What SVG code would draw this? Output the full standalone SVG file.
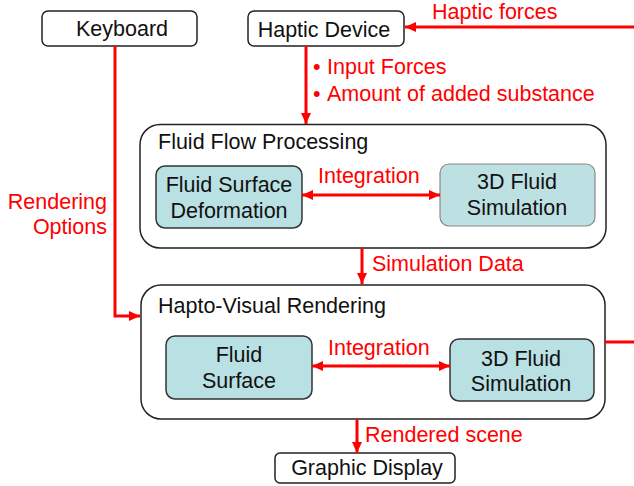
<svg xmlns="http://www.w3.org/2000/svg" width="634" height="486" viewBox="0 0 634 486">
<defs>
<marker id="ah" markerUnits="userSpaceOnUse" markerWidth="12" markerHeight="12" viewBox="0 0 12 12" refX="11" refY="6" orient="auto-start-reverse">
<path d="M0,1 L11,6 L0,11 Z" fill="#ff0000"/>
</marker>
<style>
.box{fill:#fff;stroke:#222;stroke-width:1.5}
.inner{fill:#b9e0e3;stroke:#333;stroke-width:1.5}
.inner2{fill:#bde0e3;stroke:#888;stroke-width:1.2}
.t{font-family:"Liberation Sans",Arial,sans-serif;font-size:21.5px;fill:#111}
.r{font-family:"Liberation Sans",Arial,sans-serif;font-size:21.5px;fill:#ff0000}
.c{fill:none;stroke:#ff0000;stroke-width:3}
</style>
</defs>
<rect width="634" height="486" fill="#fff"/>
<g id="keyboard"><rect class="box" x="42" y="11" width="155" height="35" rx="6"/><text class="t" x="122" y="36" text-anchor="middle">Keyboard</text></g>
<g id="haptic-device"><rect class="box" x="248" y="11" width="156" height="35" rx="6"/><text class="t" x="324" y="37" text-anchor="middle">Haptic Device</text></g>
<g id="fluid-flow-processing"><rect class="box" x="140" y="124.5" width="466" height="123.5" rx="20"/><text class="t" x="158" y="149">Fluid Flow Processing</text></g>
<g id="fluid-surface-deformation"><rect class="inner" x="156" y="166" width="146" height="62" rx="9"/><text class="t" x="229" y="192" text-anchor="middle">Fluid Surface</text><text class="t" x="229" y="218" text-anchor="middle">Deformation</text></g>
<g id="sim-3d-a"><rect class="inner2" x="440" y="164" width="155" height="62" rx="9"/><text class="t" x="517" y="189" text-anchor="middle">3D Fluid</text><text class="t" x="517" y="215" text-anchor="middle">Simulation</text></g>
<g id="hapto-visual-rendering"><rect class="box" x="141" y="285" width="464" height="134" rx="20"/><text class="t" x="158" y="313">Hapto-Visual Rendering</text></g>
<g id="fluid-surface"><rect class="inner" x="166" y="336" width="146" height="63" rx="9"/><text class="t" x="239" y="362" text-anchor="middle">Fluid</text><text class="t" x="239" y="388" text-anchor="middle">Surface</text></g>
<g id="sim-3d-b"><rect class="inner" x="450" y="339" width="144" height="62" rx="9"/><text class="t" x="521" y="366" text-anchor="middle">3D Fluid</text><text class="t" x="521" y="391" text-anchor="middle">Simulation</text></g>
<g id="graphic-display"><rect class="box" x="275" y="453" width="180" height="30" rx="5"/><text class="t" x="367" y="475" text-anchor="middle">Graphic Display</text></g>
<g id="connectors">
<path class="c" d="M634,27 L405,27" marker-end="url(#ah)"/>
<path class="c" d="M115,46 L115,316 L140,316" marker-end="url(#ah)"/>
<path class="c" d="M306,46 L306,124" marker-end="url(#ah)"/>
<path class="c" d="M302,195 L440,195" marker-start="url(#ah)" marker-end="url(#ah)"/>
<path class="c" d="M362,248 L362,284" marker-end="url(#ah)"/>
<path class="c" d="M312,366 L450,366" marker-start="url(#ah)" marker-end="url(#ah)"/>
<path class="c" d="M605,342 L634,342"/>
<path class="c" d="M357,419 L357,453" marker-end="url(#ah)"/>
</g>
<g id="labels">
<text class="r" x="432" y="19">Haptic forces</text>
<text class="r" x="313" y="74" font-size="16">•</text><text class="r" x="327" y="74">Input Forces</text>
<text class="r" x="313" y="101" font-size="16">•</text><text class="r" x="327" y="101">Amount of added substance</text>
<text class="r" x="107" y="209" text-anchor="end">Rendering</text>
<text class="r" x="107" y="234" text-anchor="end">Options</text>
<text class="r" x="318" y="183">Integration</text>
<text class="r" x="372" y="271">Simulation Data</text>
<text class="r" x="328" y="355">Integration</text>
<text class="r" x="365" y="442">Rendered scene</text>
</g>
</svg>
